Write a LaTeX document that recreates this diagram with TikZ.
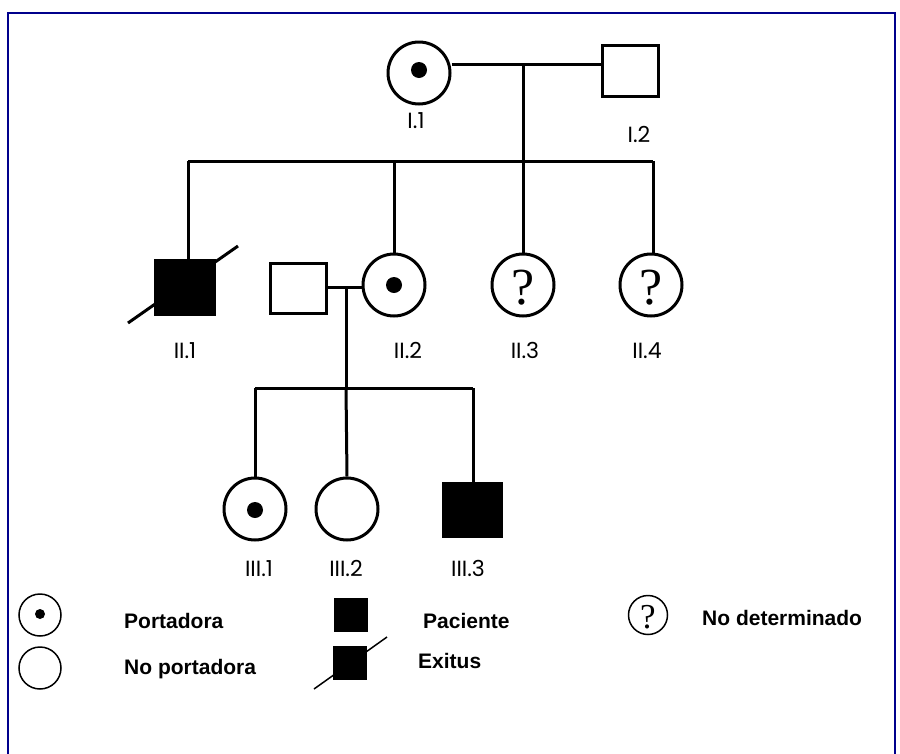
\documentclass[tikz,border=0pt]{standalone}
\usepackage{fontspec}
\setmainfont{Liberation Sans}
\newfontfamily\labfont{Poppins}
\newfontfamily\qfont{Liberation Serif}
\definecolor{bordernavy}{RGB}{0,0,140}
\tikzset{
  ped/.style={line width=3pt, draw=black},
  fem/.style={circle, ped, minimum size=62pt, inner sep=0pt, fill=white},
  mal/.style={rectangle, ped, inner sep=0pt, fill=white},
  aff/.style={fill=black},
  carrierdot/.style={circle, fill=black, inner sep=0pt, minimum size=16pt},
  lab/.style={font=\labfont\fontsize{22}{22}\selectfont, anchor=base, inner sep=0pt},
  qmark/.style={font=\qfont\fontsize{52}{52}\selectfont},
  leg/.style={line width=1.5pt, draw=black, inner sep=0pt},
  legtext/.style={font=\bfseries\fontsize{21}{21}\selectfont, anchor=base west, inner sep=0pt},
  slash/.style={line width=3pt},
}
\begin{document}
\begin{tikzpicture}[x=1pt,y=-1pt]
\useasboundingbox (0,0) rectangle (900,753);
% frame
\draw[bordernavy, line width=2pt] (8,755) -- (8,13) -- (895,13) -- (895,755);

% generation I
\node[fem] (I1) at (419,73) {};
\node[carrierdot] (I1d) at (419,70) {};
\node[mal, minimum width=56pt, minimum height=51pt] (I2) at (630,71) {};
\coordinate (m1) at (523,64);
\coordinate (s1) at (523,161);
\draw[ped] (I1.east |- m1) -- (I2.west |- m1);
\draw[ped] (m1) -- (s1);
\node[lab] (lI1) at (416,128) {I.1};
\node[lab] (lI2) at (639,142) {I.2};

% generation II
\node[mal, aff, minimum width=59pt, minimum height=54pt] (II1) at (185,287) {};
\node[mal, minimum width=56pt, minimum height=50pt] (II2s) at (298,288) {};
\node[fem] (II2) at (394,285) {};
\node[carrierdot] (II2d) at (394,285) {};
\node[fem] (II3) at (523,285) {};
\node[qmark] (q3) at (523,288) {?};
\node[fem] (II4) at (651,285) {};
\node[qmark] (q4) at (651,288) {?};
\coordinate (a1) at (188,161);
\coordinate (a4) at (653,161);
\draw[ped] (a1) -- (a4);
\draw[ped] (a1) -- (a1 |- II1.north);
\draw[ped] (II2.north |- s1) -- (II2.north);
\draw[ped] (s1) -- (II3.north);
\draw[ped] (a4) -- (a4 |- II4.north);
\draw[slash] ([shift={(-57,36)}]II1.center) -- ([shift={(53,-41)}]II1.center);
\coordinate (m2) at (346,287);
\coordinate (s2) at (346,388);
\draw[ped] (II2s.east |- m2) -- (II2.west |- m2);
\draw[ped] (m2) -- (s2);
\node[lab] (lII1) at (185,358) {II.1};
\node[lab] (lII2) at (408,358) {II.2};
\node[lab] (lII3) at (525,358) {II.3};
\node[lab] (lII4) at (647,358) {II.4};

% generation III
\node[fem] (III1) at (255,509) {};
\node[carrierdot] (III1d) at (255,510) {};
\node[fem] (III2) at (347,509) {};
\node[mal, aff, minimum width=58pt, minimum height=53pt] (III3) at (472,510) {};
\coordinate (b1) at (255,388);
\coordinate (b3) at (473,388);
\draw[ped] (b1) -- (b3);
\draw[ped] (b1) -- (III1.north);
\draw[ped] (s2) -- (III2.north);
\draw[ped] (b3) -- (b3 |- III3.north);
\node[lab] (lIII1) at (259,576) {III.1};
\node[lab] (lIII2) at (346,576) {III.2};
\node[lab] (lIII3) at (468,576) {III.3};

% legend
\node[leg, circle, minimum size=42pt] (L1) at (40,615) {};
\node[circle, fill=black, inner sep=0pt, minimum size=10pt] (L1d) at (40,614) {};
\node[legtext] (T1) at (124,628) {Portadora};
\node[leg, circle, minimum size=42pt] (L2) at (40,668) {};
\node[legtext] (T2) at (124,674) {No portadora};
\node[leg, fill=black, minimum width=32pt, minimum height=33pt] (L3) at (351,615) {};
\node[legtext] (T3) at (423,628) {Paciente};
\node[leg, fill=black, minimum width=32pt, minimum height=32pt] (L4) at (350,663) {};
\draw[line width=1.5pt] ([shift={(-36,26)}]L4.center) -- ([shift={(37,-26)}]L4.center);
\node[legtext] (T4) at (418,668) {Exitus};
\node[leg, circle, minimum size=39pt] (L5) at (648,615) {};
\node[font=\qfont\fontsize{35}{35}\selectfont] (L5q) at (648,617) {?};
\node[legtext] (T5) at (702,625) {No determinado};
\end{tikzpicture}
\end{document}
